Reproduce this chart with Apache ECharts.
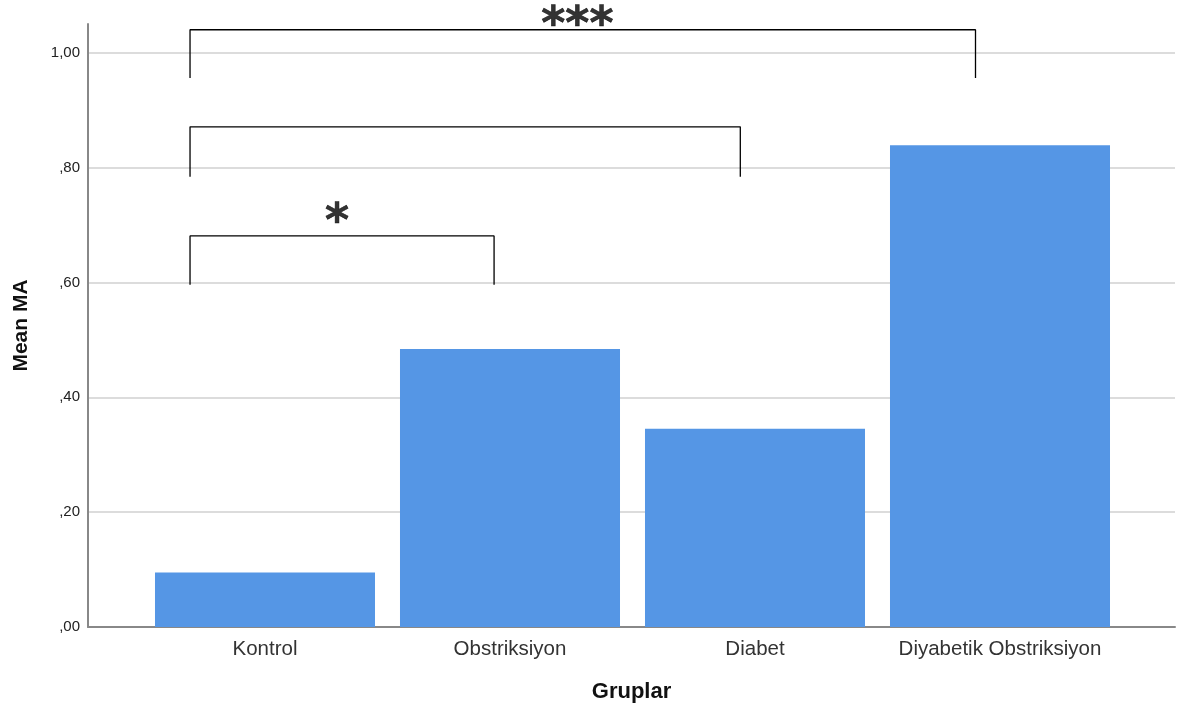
<!DOCTYPE html>
<html><head><meta charset="utf-8">
<script src="https://cdn.jsdelivr.net/npm/echarts@6/dist/echarts.min.js"></script>
<style>html,body{margin:0;padding:0;background:#fff}#c{width:1184px;height:713px}</style>
</head><body><div id="c"></div>
<script>
const categories = ['Kontrol', 'Obstriksiyon', 'Diabet', 'Diyabetik Obstriksiyon'];
const meanMA = [0.095, 0.484, 0.345, 0.839];
// significance brackets (x in category-index units, y in Mean MA units)
const bracketStart = [-0.306, -0.306, -0.306];
const bracketEnd = [2.90, 1.94, 0.935];
const bracketTop = [1.040, 0.871, 0.681];
const bracketLeg = [0.956, 0.784, 0.596];
const starText = ['***', '*'];
const starX = [1.275, 0.294];
const starY = [1.045, 0.701];

const chart = echarts.init(document.getElementById('c'));
const fmt = v => v.toFixed(2).replace('.', ',').replace(/^0/, '');
const bracketSeries = bracketStart.map((x0, i) => ({
  type: 'line', xAxisIndex: 2, yAxisIndex: 1, symbol: 'none', silent: true,
  lineStyle: { color: '#000', width: 1.3 }, clip: false, z: 5,
  data: [[x0, bracketLeg[i]], [x0, bracketTop[i]], [bracketEnd[i], bracketTop[i]], [bracketEnd[i], bracketLeg[i]]]
}));
chart.setOption({
  animation: false,
  grid: [
    { left: 88, right: 9, top: 24, bottom: 86 },
    { left: 142.5, right: 61.5, top: 24, bottom: 86 }
  ],
  xAxis: [
    { type: 'value', gridIndex: 0, min: 0, max: 1, axisLabel: { show: false }, axisTick: { show: false }, splitLine: { show: false },
      axisLine: { show: true, lineStyle: { color: '#888', width: 2 } },
      name: 'Gruplar', nameLocation: 'middle', nameGap: 54,
      nameTextStyle: { fontFamily: 'Liberation Sans', fontWeight: 'bold', fontSize: 22, color: '#111' } },
    { type: 'category', gridIndex: 1, data: categories, axisLine: { show: false }, axisTick: { show: false },
      axisLabel: { fontFamily: 'Liberation Sans', fontSize: 20.5, color: '#333', margin: 12, interval: 0 } },
    { type: 'value', gridIndex: 1, min: -0.5, max: 3.5, show: false }
  ],
  yAxis: [
    { type: 'value', gridIndex: 0, min: 0, max: 1.05, interval: 0.2,
      axisLine: { show: true, lineStyle: { color: '#888', width: 2 } }, axisTick: { show: false },
      axisLabel: { formatter: fmt, showMaxLabel: false, fontFamily: 'Liberation Sans', fontSize: 15, color: '#222', margin: 8 },
      splitLine: { show: true, showMaxLine: false, lineStyle: { color: '#dcdcdc', width: 2 } },
      name: 'Mean MA', nameLocation: 'middle', nameGap: 56, nameRotate: 90,
      nameTextStyle: { fontFamily: 'Liberation Sans', fontWeight: 'bold', fontSize: 21, color: '#111' } },
    { type: 'value', gridIndex: 1, min: 0, max: 1.05, show: false }
  ],
  series: [
    { type: 'bar', xAxisIndex: 1, yAxisIndex: 1, data: meanMA, barCategoryGap: '10.2%',
      itemStyle: { color: '#5596e5' }, z: 3 },
    ...bracketSeries,
    { type: 'scatter', xAxisIndex: 2, yAxisIndex: 1, clip: false, symbolSize: 1, silent: true,
      itemStyle: { color: 'rgba(0,0,0,0)' },
      data: starText.map((t, i) => ({ value: [starX[i], starY[i]], name: t })),
      label: { show: true, position: 'inside', formatter: p => p.name,
        fontFamily: 'DejaVu Sans', fontWeight: 'bold', fontSize: 46, color: '#000',
        textBorderWidth: 0.6, textBorderColor: '#000' } }
  ]
});
</script></body></html>
